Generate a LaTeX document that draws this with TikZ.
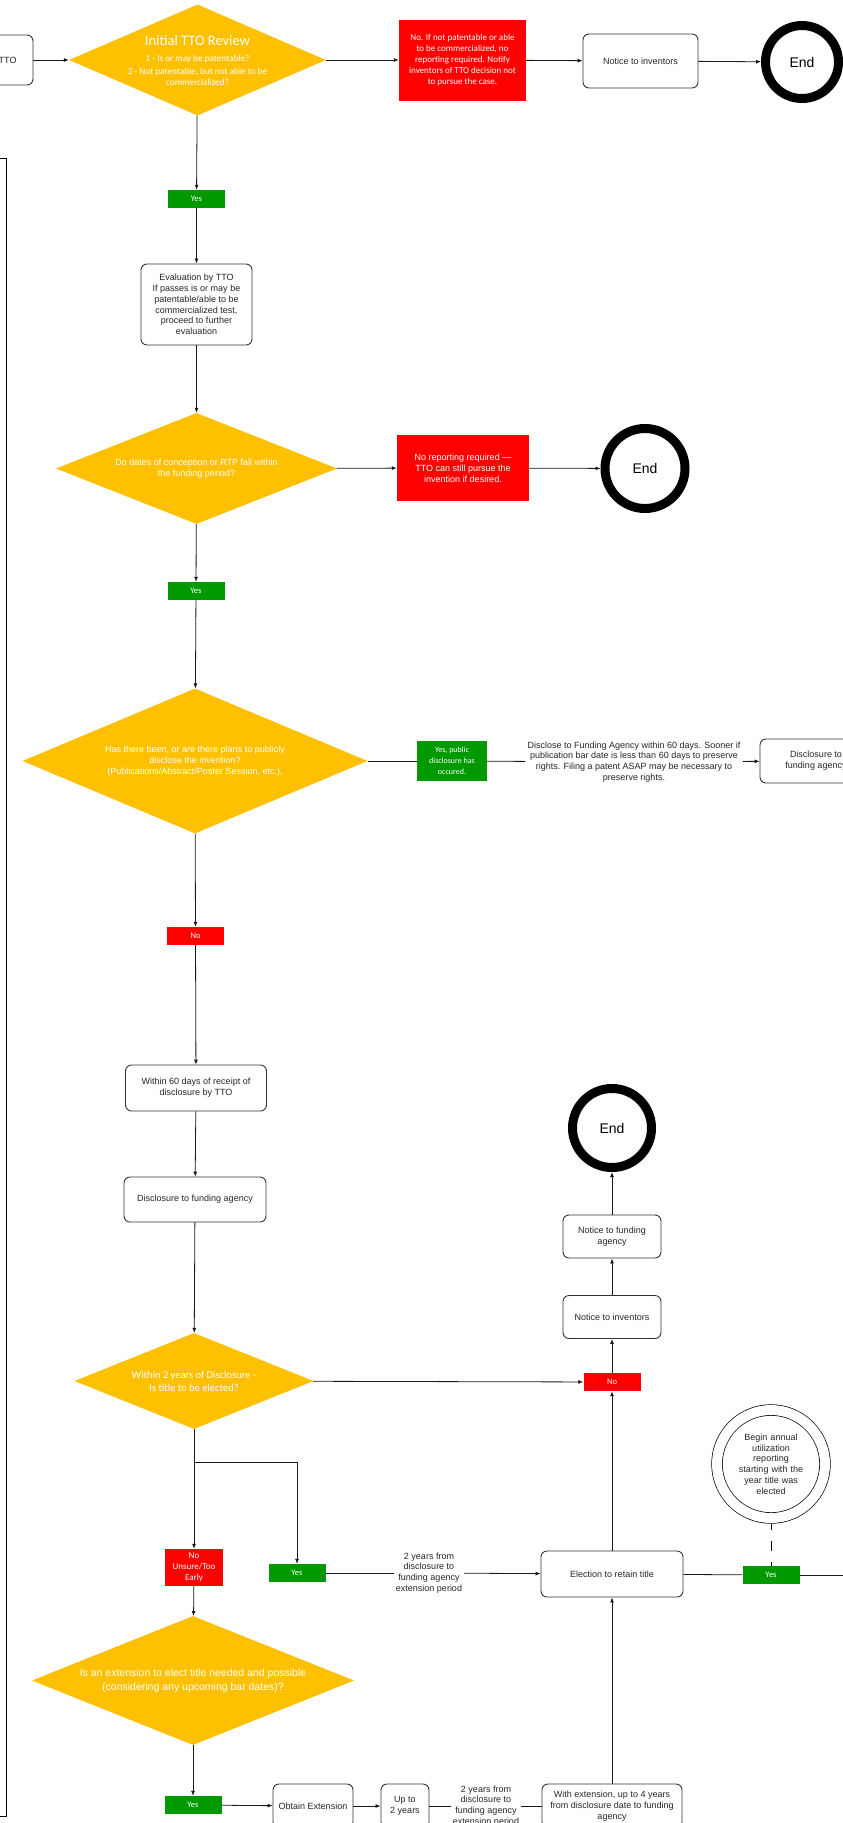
\documentclass[tikz,border=0pt]{standalone}
\usepackage{fontspec}
\setmainfont{Liberation Sans}
\newfontfamily\calibri{Carlito}
\usepackage{tikz}
\usetikzlibrary{shapes.geometric, arrows.meta}
\definecolor{ttogold}{HTML}{FFC000}
\definecolor{ttogreen}{HTML}{009900}
\definecolor{ttored}{HTML}{FF0000}

\begin{document}
\begin{tikzpicture}[
		x=1pt, y=-1pt,
		>={Latex[length=5pt, width=4pt]},
		every node/.style={font=\fontsize{9}{10.8}\selectfont, align=center, text=black!85},
		procbox/.style={rectangle, rounded corners=6pt, draw=black!80, line width=0.9pt, fill=white, inner sep=1pt},
		decision/.style={diamond, fill=ttogold, text=white, inner sep=0pt},
		redbox/.style={rectangle, fill=ttored, text=white, inner sep=0pt},
		yesbox/.style={rectangle, fill=ttogreen, text=white, minimum width=57pt, minimum height=18pt, inner sep=0pt, font=\calibri\fontsize{8.5}{9}\selectfont},
		nobox/.style={yesbox, fill=ttored},
		endnode/.style={circle, draw=black, line width=9pt, text=black, font=\fontsize{14}{16}\selectfont},
		stepnote/.style={fill=white, inner sep=2pt},
		flow/.style={->, line width=0.8pt, draw=black!90}
	]
  \path[fill=white, use as bounding box] (0,0) rectangle (843,1823);
  \clip (0,0) rectangle (843,1823);
  \draw[line width=1pt] (-10,158) rectangle (6,1816);

  \node (tto) [procbox, minimum width=103pt, minimum height=50pt, text width=70pt, align=right] at (-18.5, 60) {TTO};
  \node (review) [decision, minimum width=257pt, minimum height=111pt, shape aspect=2.3, inner xsep=-12pt, font=\calibri\fontsize{9.2}{11}\selectfont] at (197.5, 60) {{\fontsize{14.5}{17}\selectfont Initial TTO Review}\\[5pt]1 - Is or may be patentable?\\[2pt]2 - Not patentable, but not able to be\\commercialized?};
  \node (nopat) [redbox, minimum width=127pt, minimum height=81pt, font=\calibri\fontsize{9}{10.8}\selectfont] at (462.5, 60) {No. If not patentable or able\\to be commercialized, no\\reporting required. Notify\\inventors of TTO decision not\\to pursue the case.};
  \node (notice_a) [procbox, minimum width=115pt, minimum height=54pt] at (640.5, 61) {Notice to inventors};
  \node (end_a) [endnode, minimum size=73pt] at (802, 62) {End};

  \node (yes_a) [yesbox] at (196.5, 199) {Yes};
  \node (eval) [procbox, minimum width=111pt, minimum height=81pt] at (196.5, 304.5) {Evaluation by TTO\\If passes is or may be\\patentable/able to be\\commercialized test,\\proceed to further\\evaluation};

  \node (period) [decision, minimum width=281pt, minimum height=111pt, shape aspect=2.5] at (196.5, 468.5) {Do dates of conception or RTP fall within\\the funding period?};
  \node (noreport) [redbox, minimum width=132pt, minimum height=66pt] at (463, 468) {No reporting required —\\TTO can still pursue the\\invention if desired.};
  \node (end_b) [endnode, minimum size=80pt] at (645, 468.5) {End};
  \node (yes_b) [yesbox] at (196, 591) {Yes};

  \node (public) [decision, minimum width=345pt, minimum height=145pt, shape aspect=2.4] at (195, 761) {Has there been, or are there plans to publicly\\disclose the invention?\\(Publications/Abstract/Poster Session, etc.),};
  \node (yes_pub) [yesbox, minimum width=70pt, minimum height=40pt, font=\calibri\fontsize{8}{11}\selectfont] at (452, 761) {Yes, public\\disclosure has\\occured.};
  \node (sooner) [stepnote] at (634, 762) {Disclose to Funding Agency within 60 days. Sooner if\\publication bar date is less than 60 days to preserve\\rights. Filing a patent ASAP may be necessary to\\preserve rights.};
  \node (disc_b) [procbox, minimum width=112pt, minimum height=44pt] at (816, 761) {Disclosure to\\funding agency};

  \node (no_a) [nobox] at (195.5, 936) {No};
  \node (within) [procbox, minimum width=141pt, minimum height=46pt] at (196, 1088) {Within 60 days of receipt of\\disclosure by TTO};
  \node (disc_a) [procbox, minimum width=142pt, minimum height=45pt] at (195, 1199.5) {Disclosure to funding agency};

  \node (elect) [decision, minimum width=239pt, minimum height=96pt, shape aspect=2.5, font=\calibri\fontsize{10.5}{13}\selectfont] at (194, 1381) {Within 2 years of Disclosure -\\Is title to be elected?};
  \node (no_b) [nobox] at (612, 1382) {No};
  \node (notice_b) [procbox, minimum width=98pt, minimum height=43pt] at (612, 1317) {Notice to inventors};
  \node (notice_c) [procbox, minimum width=98pt, minimum height=43pt] at (612, 1236.5) {Notice to funding\\agency};
  \node (end_c) [endnode, minimum size=79pt] at (612, 1128) {End};

  \coordinate (split) at (194, 1462);
  \node (unsure) [redbox, minimum width=58pt, minimum height=37pt, font=\calibri\fontsize{9}{11}\selectfont] at (194, 1567.5) {No\\Unsure/Too\\Early};
  \node (yes_c) [yesbox] at (297, 1573) {Yes};
  \node (twoyrs_a) [stepnote] at (429, 1573) {2 years from\\disclosure to\\funding agency\\extension period};
  \node (retain) [procbox, minimum width=142pt, minimum height=46pt] at (612, 1574) {Election to retain title};
  \node (yes_d) [yesbox] at (771, 1575) {Yes};
  \coordinate (offright) at (860, 1575);
  \node (annual) [circle, draw=black, double=white, double distance=10pt, line width=0.7pt, minimum size=108pt, inner sep=0pt, outer sep=6pt, text width=72pt] at (771, 1464) {Begin annual\\utilization\\reporting\\starting with the\\year title was\\elected};

  \node (extend) [decision, minimum width=322pt, minimum height=129pt, shape aspect=2.5, font=\fontsize{10.5}{14}\selectfont] at (193, 1680.5) {Is an extension to elect title needed and possible\\(considering any upcoming bar dates)?};
  \node (yes_e) [yesbox] at (193, 1805) {Yes};
  \node (obtain) [procbox, minimum width=80pt, minimum height=44pt] at (313, 1806) {Obtain Extension};
  \node (upto) [procbox, minimum width=48pt, minimum height=44pt] at (405, 1806) {Up to\\2 years};
  \node (twoyrs_b) [stepnote] at (486, 1806) {2 years from\\disclosure to\\funding agency\\extension period};
  \node (withext) [procbox, minimum width=140pt, minimum height=44pt] at (612, 1806) {With extension, up to 4 years\\from disclosure date to funding\\agency};

  \draw[flow] (tto) -- (review);
  \draw[flow] (review) -- (nopat);
  \draw[flow] (nopat) -- (notice_a);
  \draw[flow] (notice_a) -- (end_a);
  \draw[flow] (review) -- (yes_a);
  \draw[flow] (yes_a) -- (eval);
  \draw[flow] (eval) -- (period);
  \draw[flow] (period) -- (noreport);
  \draw[flow] (noreport) -- (end_b);
  \draw[flow] (period) -- (yes_b);
  \draw[flow] (yes_b) -- (public);
  \draw[flow, -] (public) -- (yes_pub);
  \draw[flow, -] (yes_pub) -- (sooner);
  \draw[flow] (sooner) -- (disc_b);
  \draw[flow] (public) -- (no_a);
  \draw[flow] (no_a) -- (within);
  \draw[flow] (within) -- (disc_a);
  \draw[flow] (disc_a) -- (elect);
  \draw[flow] (elect) -- (no_b);
  \draw[flow] (no_b) -- (notice_b);
  \draw[flow] (notice_b) -- (notice_c);
  \draw[flow] (notice_c) -- (end_c);
  \draw[flow] (elect) -- (unsure);
  \draw[flow] (split) -| (yes_c);
  \draw[flow, -] (yes_c) -- (twoyrs_a);
  \draw[flow] (twoyrs_a) -- (retain);
  \draw[flow] (retain) -- (no_b);
  \draw[flow, -] (retain) -- (yes_d);
  \draw[flow, -] (yes_d) -- (offright);
  \draw[line width=0.8pt, dash pattern=on 10pt off 11pt, dash phase=4pt] (annual) -- (yes_d);
  \draw[flow] (unsure) -- (extend);
  \draw[flow] (extend) -- (yes_e);
  \draw[flow] (yes_e) -- (obtain);
  \draw[flow] (obtain) -- (upto);
  \draw[flow, -] (upto) -- (twoyrs_b);
  \draw[flow, -] (twoyrs_b) -- (withext);
  \draw[flow] (withext) -- (retain);
\end{tikzpicture}
\end{document}
